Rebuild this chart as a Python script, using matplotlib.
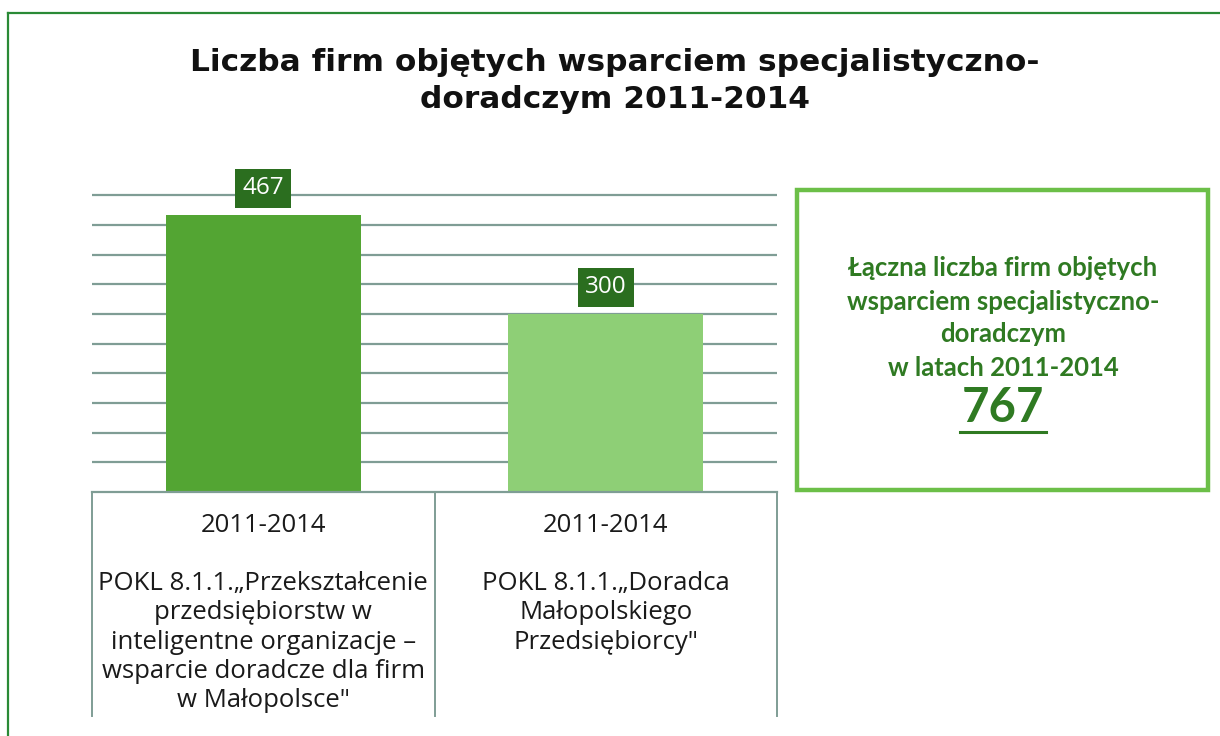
#!/usr/bin/env python3
"""Liczba firm objetych wsparciem - bar chart with category table and summary box."""

import matplotlib

matplotlib.use("Agg")
import matplotlib.pyplot as plt
import numpy as np
from matplotlib.lines import Line2D
from matplotlib.patches import Rectangle

# data
title = "Liczba firm objętych wsparciem specjalistyczno-\ndoradczym 2011-2014"
periods = ["2011-2014", "2011-2014"]
projects = [
    "POKL 8.1.1.„Przekształcenie\nprzedsiębiorstw w\ninteligentne organizacje –\nwsparcie doradcze dla firm\nw Małopolsce\"",
    "POKL 8.1.1.„Doradca\nMałopolskiego\nPrzedsiębiorcy\"",
]
values = [467, 300]
grid_ticks = [50, 100, 150, 200, 250, 300, 350, 400, 450, 500]
summary_text = "Łączna liczba firm objętych\nwsparciem specjalistyczno-\ndoradczym\nw latach 2011-2014"
summary_total = 767

bar_colors = ["#53a533", "#8ecf76"]
label_bg = "#2b6e1f"
grid_color = "#7f9d95"
text_green = "#2f7a22"

W, H = 1220, 736
fig = plt.figure(figsize=(W / 100, H / 100), dpi=100)
fig.patch.set_facecolor("white")


def fx(px):
    return px / W


def fy(py):
    return 1 - py / H


# outer frame (top + left only)
fig.add_artist(Line2D([fx(8), 1.0], [fy(13), fy(13)], color="#2a8a36", lw=1.6))
fig.add_artist(Line2D([fx(8), fx(8)], [fy(13), 0.0], color="#2a8a36", lw=1.6))

fig.text(fx(615), fy(81), title, ha="center", va="center", fontsize=22.5,
         fontweight="bold", family="DejaVu Sans", linespacing=1.38, color="#111111")

# main bar axes
x0, x1 = 92, 777
base_y = 492
px_per_unit = 0.593
ytop = 540
ax = fig.add_axes([fx(x0), fy(base_y), (x1 - x0) / W, ytop * px_per_unit / H])
x = np.arange(len(values))
ax.bar(x, values, width=0.57, color=bar_colors, zorder=2)
ax.set_xlim(-0.5, len(values) - 0.5)
ax.set_ylim(0, ytop)
ax.set_yticks(grid_ticks)
ax.yaxis.grid(True, color=grid_color, lw=1.6, zorder=0)
ax.set_axisbelow(True)
ax.tick_params(left=False, bottom=False, labelleft=False, labelbottom=False)
for s in ax.spines.values():
    s.set_visible(False)
ax.patch.set_alpha(0)

for xi, v in zip(x, values):
    ax.text(xi, v + 45, str(v), ha="center", va="center", color="white",
            fontsize=17.5, family="Open Sans", zorder=4,
            bbox=dict(boxstyle="square,pad=0.3", fc=label_bg, ec="none"))

# category table below the bars
tab = fig.add_axes([fx(x0), fy(716), (x1 - x0) / W, (716 - base_y) / H])
tab.set_xlim(-0.5, len(values) - 0.5)
tab.set_ylim(0, 1)
tab.axis("off")
tab.plot([-0.5, len(values) - 0.5], [1, 1], color=grid_color, lw=1.6, clip_on=False)
for xv in np.arange(-0.5, len(values), 1.0):
    tab.plot([xv, xv], [0, 1], color=grid_color, lw=1.4, clip_on=False)
for xi, per, name in zip(x, periods, projects):
    tab.text(xi, 1 - (526 - base_y) / (716 - base_y), per, ha="center", va="center",
             fontsize=18.5, family="Open Sans", color="#1a1a1a")
    tab.text(xi, 1 - (571 - base_y) / (716 - base_y), name, ha="center", va="top",
             fontsize=18.5, family="Open Sans", color="#1a1a1a", linespacing=1.23)

# summary box
fig.add_artist(Rectangle((fx(797), fy(490)), (1208 - 797) / W, (490 - 190) / H,
                         transform=fig.transFigure, fill=False, ec="#6cbf48", lw=3.2))
fig.text(fx(1003), fy(318), summary_text, ha="center", va="center", fontsize=18.5,
         fontweight="bold", family="Lato", color=text_green, linespacing=1.45)
fig.text(fx(1003), fy(408), str(summary_total), ha="center", va="center", fontsize=34,
         fontweight="bold", family="Lato", color=text_green)
fig.add_artist(Line2D([fx(960), fx(1046)], [fy(432), fy(432)], color=text_green, lw=2.2))

fig.savefig("out.png", dpi=100, facecolor="white")
